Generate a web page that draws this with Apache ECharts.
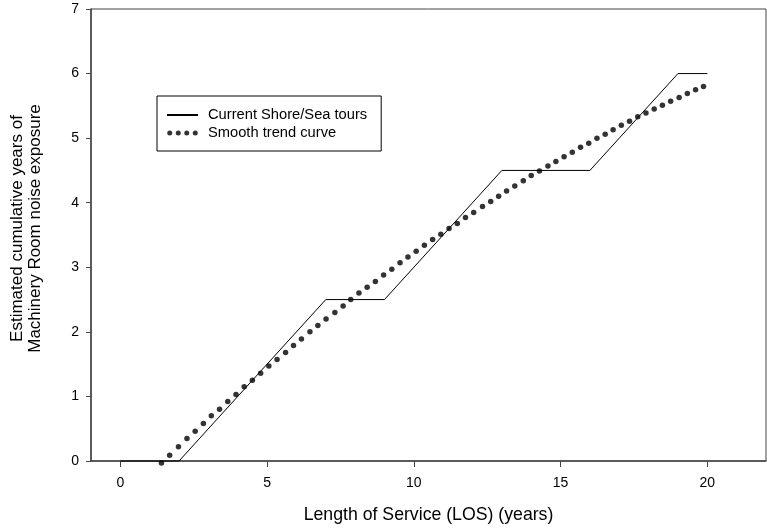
<!DOCTYPE html>
<html>
<head>
<meta charset="utf-8">
<script src="https://cdn.jsdelivr.net/npm/echarts@6/dist/echarts.min.js"></script>
<style>
  html, body { margin: 0; padding: 0; background: #fff; }
  #chart { width: 767px; height: 529px; }
</style>
</head>
<body>
<div id="chart"></div>
<script>
// Shore/sea tour schedule: cumulative machinery-room years by length of service
const tourLOS = [0, 2, 7, 9, 13, 16, 19, 20];
const tourYears = [0, 0, 2.5, 2.5, 4.5, 4.5, 6, 6];

// Smooth trend curve, sampled along length of service
const trendLOS = [
  1.40, 1.68, 1.98, 2.27, 2.55, 2.83, 3.10, 3.38, 3.66, 3.94,
  4.22, 4.50, 4.78, 5.06, 5.34, 5.63, 5.90, 6.17, 6.46, 6.73,
  7.01, 7.31, 7.59, 7.85, 8.13, 8.41, 8.69, 8.97, 9.25, 9.53,
  9.80, 10.08, 10.36, 10.64, 10.92, 11.20, 11.48, 11.76, 12.04, 12.34,
  12.62, 12.89, 13.16, 13.44, 13.73, 14.00, 14.28, 14.57, 14.84, 15.12,
  15.40, 15.68, 15.96, 16.24, 16.52, 16.79, 17.07, 17.35, 17.63, 17.91,
  18.19, 18.47, 18.75, 19.04, 19.32, 19.60, 19.87
];
const trendYears = [
  -0.03, 0.09, 0.22, 0.35, 0.46, 0.58, 0.70, 0.80, 0.92, 1.03,
  1.15, 1.25, 1.36, 1.47, 1.57, 1.68, 1.79, 1.89, 2.00, 2.10,
  2.20, 2.30, 2.40, 2.50, 2.60, 2.69, 2.78, 2.88, 2.97, 3.07,
  3.16, 3.25, 3.34, 3.43, 3.51, 3.60, 3.68, 3.77, 3.85, 3.94,
  4.02, 4.10, 4.18, 4.26, 4.34, 4.42, 4.49, 4.57, 4.64, 4.71,
  4.78, 4.86, 4.92, 5.00, 5.06, 5.13, 5.20, 5.26, 5.33, 5.39,
  5.45, 5.51, 5.57, 5.63, 5.69, 5.75, 5.80
];

const xTicks = [0, 5, 10, 15, 20];
const yTicks = [0, 1, 2, 3, 4, 5, 6, 7];

const seriesNames = ['Current Shore/Sea tours', 'Smooth trend curve'];
const xTitle = 'Length of Service (LOS) (years)';
const yTitle = 'Estimated cumulative years of\nMachinery Room noise exposure';

const FONT = 'Liberation Sans, Arial, sans-serif';
const AXIS = '#444';

// Four round dots for the trend legend key
const dotsIcon = 'path://M0,2.5a2.5,2.5 0 1,0 5,0a2.5,2.5 0 1,0 -5,0' +
  'M8.5,2.5a2.5,2.5 0 1,0 5,0a2.5,2.5 0 1,0 -5,0' +
  'M17,2.5a2.5,2.5 0 1,0 5,0a2.5,2.5 0 1,0 -5,0' +
  'M25.5,2.5a2.5,2.5 0 1,0 5,0a2.5,2.5 0 1,0 -5,0';

const chart = echarts.init(document.getElementById('chart'), null, { renderer: 'canvas' });

chart.setOption({
  backgroundColor: '#fff',
  animation: false,
  textStyle: { fontFamily: FONT, color: '#000' },
  grid: {
    left: 80, right: 1, top: 9, bottom: 67,
    show: true, borderColor: AXIS, borderWidth: 1, backgroundColor: 'transparent'
  },
  legend: {
    orient: 'vertical',
    left: 157, top: 96,
    padding: [11, 14, 10, 9],
    itemWidth: 31, itemHeight: 5, itemGap: 2,
    borderColor: '#000', borderWidth: 1,
    textStyle: { fontFamily: FONT, fontSize: 14.7, color: '#000', lineHeight: 16, padding: [0, 0, 0, 5] },
    data: [
      { name: seriesNames[0], itemStyle: { opacity: 0 } },
      { name: seriesNames[1], icon: dotsIcon, itemStyle: { color: '#000' } }
    ]
  },
  xAxis: {
    type: 'value',
    min: -1, max: 22,
    name: xTitle,
    nameLocation: 'middle',
    nameGap: 45,
    nameTextStyle: { fontFamily: FONT, fontSize: 17.7, color: '#000' },
    axisLine: { show: true, onZero: false, lineStyle: { color: AXIS, width: 1.5 } },
    axisTick: { show: true, length: 6, lineStyle: { color: AXIS }, customValues: xTicks },
    axisLabel: { fontFamily: FONT, fontSize: 14, color: '#000', margin: 15, customValues: xTicks },
    splitLine: { show: false }
  },
  yAxis: {
    type: 'value',
    min: 0, max: 7, interval: 1,
    name: yTitle,
    nameLocation: 'middle',
    nameRotate: 90,
    nameGap: 47,
    nameTextStyle: { fontFamily: FONT, fontSize: 17, color: '#000', lineHeight: 18, padding: [0, 0, 0, 13] },
    axisLine: { show: true, onZero: false, lineStyle: { color: AXIS, width: 1.5 } },
    axisTick: { show: true, length: 5, lineStyle: { color: AXIS }, customValues: yTicks },
    axisLabel: { fontFamily: FONT, fontSize: 14, color: '#000', margin: 12, customValues: yTicks },
    splitLine: { show: false }
  },
  series: [
    {
      name: seriesNames[0],
      type: 'line',
      data: tourLOS.map((x, i) => [x, tourYears[i]]),
      symbol: 'none',
      lineStyle: { color: '#000', width: 1 },
      itemStyle: { color: '#000' },
      clip: false
    },
    {
      name: seriesNames[1],
      type: 'scatter',
      data: trendLOS.map((x, i) => [x, trendYears[i]]),
      symbol: 'circle',
      symbolSize: 5.5,
      itemStyle: { color: '#000' },
      clip: false
    }
  ]
});
</script>
</body>
</html>
